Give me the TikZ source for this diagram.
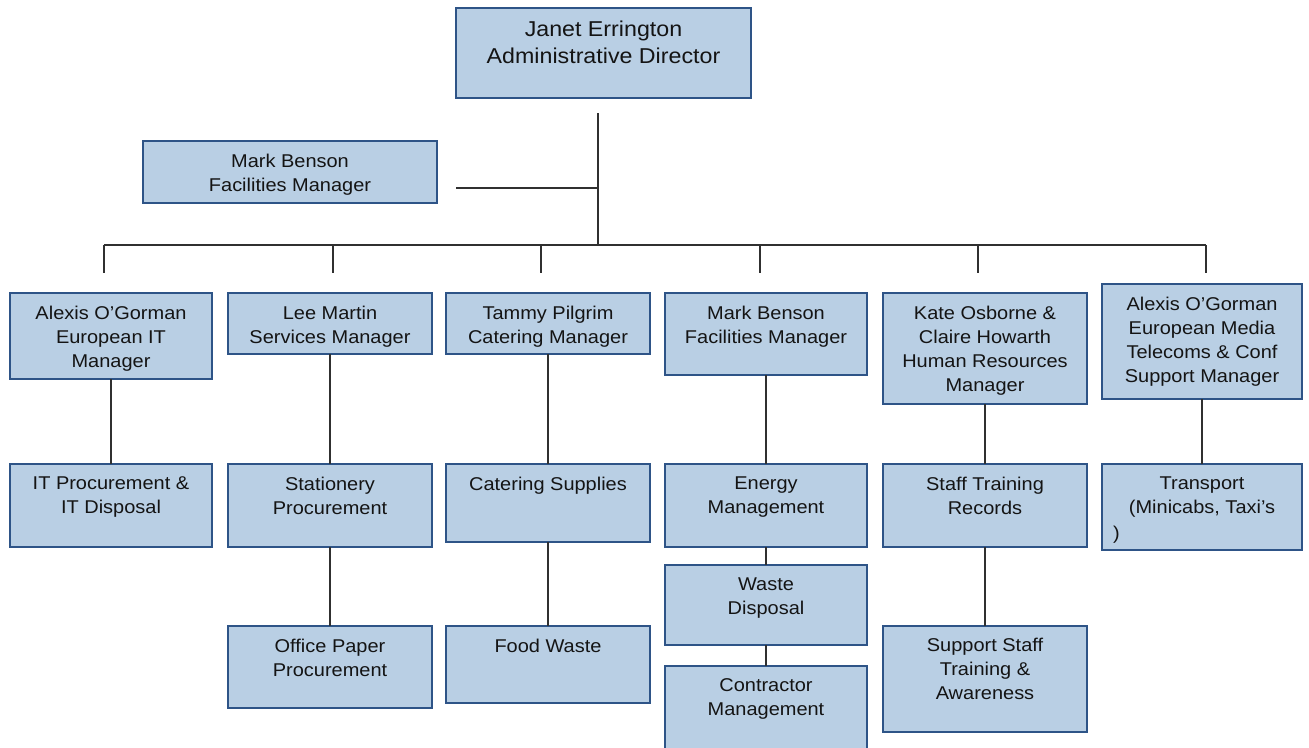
\documentclass[tikz,border=0pt]{standalone}
\usepackage{fontspec}
\setmainfont{Liberation Sans}[FakeStretch=1.08]
\usetikzlibrary{calc}
\definecolor{boxfill}{HTML}{B9CFE4}
\definecolor{boxline}{HTML}{2E5487}
\definecolor{conn}{HTML}{303030}
\definecolor{txtc}{HTML}{141414}
\tikzset{
  box/.style={draw=boxline, fill=boxfill, line width=1.2pt, rectangle, inner sep=0pt, outer sep=0pt},
  txt/.style={inner sep=0pt, outer sep=0pt, align=center, text=txtc, anchor=north, font=\fontsize{18.5}{24}\selectfont},
  bigtxt/.style={txt, font=\fontsize{21.5}{27}\selectfont},
  link/.style={draw=conn, line width=1.3pt},
}
\newcommand\obox[7][txt]{%
  \node[box, minimum width={(#5)-(#3)}, minimum height={(#6)-(#4)}] (#2) at ({((#3)+(#5))/2},{((#4)+(#6))/2}) {};
  \node[#1] (#2-t) at ($(#2.north)+(0,12.6)$) {#7};
}
\begin{document}
\begin{tikzpicture}[x=1pt,y=-1pt]
\useasboundingbox (0,0) rectangle (1309,747);
% boxes
\obox[bigtxt]{janet}{456}{8}{751}{98}{Janet Errington\\Administrative Director}
\obox{mbtop}{143}{141}{437}{203}{Mark Benson\\Facilities Manager}
\obox{alexis}{10}{293}{212}{379}{Alexis O’Gorman\\European IT\\Manager}
\obox{lee}{228}{293}{432}{354}{Lee Martin\\Services Manager}
\obox{tammy}{446}{293}{650}{354}{Tammy Pilgrim\\Catering Manager}
\obox{mark}{665}{293}{867}{375}{Mark Benson\\Facilities Manager}
\obox{kate}{883}{293}{1087}{404}{Kate Osborne \&\\Claire Howarth\\Human Resources\\Manager}
\obox{media}{1102}{284}{1302}{399}{Alexis O’Gorman\\European Media\\Telecoms \& Conf\\Support Manager}
\obox{itproc}{10}{464}{212}{547}{IT Procurement \&\\IT Disposal}
\obox{station}{228}{464}{432}{547}{Stationery\\Procurement}
\obox{catsup}{446}{464}{650}{542}{Catering Supplies}
\obox{energy}{665}{464}{867}{547}{Energy\\Management}
\obox{training}{883}{464}{1087}{547}{Staff Training\\Records}
\obox{transport}{1102}{464}{1302}{550}{Transport\\(Minicabs, Taxi’s}
\node[txt, anchor=base west] (transport-p) at (1113,539) {)};
\obox{paper}{228}{626}{432}{708}{Office Paper\\Procurement}
\obox{food}{446}{626}{650}{703}{Food Waste}
\obox{waste}{665}{565}{867}{645}{Waste\\Disposal}
\obox{contractor}{665}{666}{867}{760}{Contractor\\Management}
\obox{support}{883}{626}{1087}{732}{Support Staff\\Training \&\\Awareness}
% trunk coordinates
\coordinate (trunkTop) at (598,113);
\coordinate (trunkMid) at (598,188);
\coordinate (mbEnd) at (456,188);
\coordinate (busC) at (598,245);
\coordinate (busL) at (104,245);
\coordinate (busR) at (1206,245);
\draw[link] (trunkTop) -- (busC);
\draw[link] (mbEnd) -- (trunkMid);
\draw[link] (busL) -- (busR);
\foreach \x/\n in {104/a,333/b,541/c,760/d,978/e,1206/f}{
  \coordinate (drop\n top) at (\x,245);
  \coordinate (drop\n end) at (\x,273);
  \draw[link] (drop\n top) -- (drop\n end);
}
% children links
\draw[link] (alexis.south) -- (alexis.south |- itproc.north);
\draw[link] (lee.south) -- (lee.south |- station.north);
\draw[link] (station.south) -- (station.south |- paper.north);
\draw[link] (tammy.south) -- (tammy.south |- catsup.north);
\draw[link] (catsup.south) -- (catsup.south |- food.north);
\draw[link] (mark.south) -- (mark.south |- energy.north);
\draw[link] (energy.south) -- (energy.south |- waste.north);
\draw[link] (waste.south) -- (waste.south |- contractor.north);
\draw[link] (kate.south) -- (kate.south |- training.north);
\draw[link] (training.south) -- (training.south |- support.north);
\draw[link] (media.south) -- (media.south |- transport.north);
\end{tikzpicture}
\end{document}
